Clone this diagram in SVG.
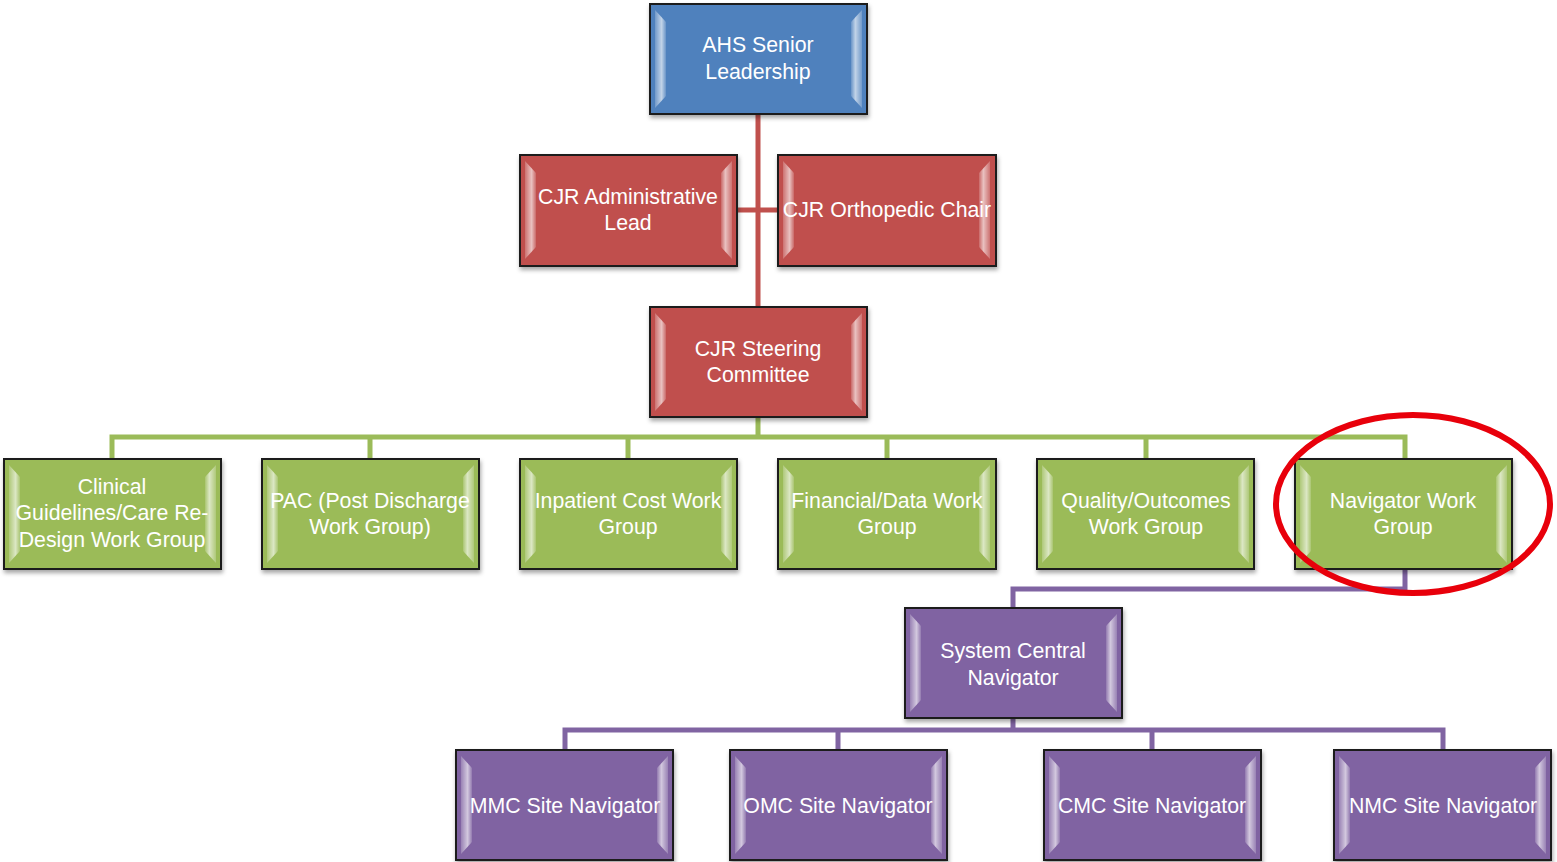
<svg xmlns="http://www.w3.org/2000/svg" xmlns:xlink="http://www.w3.org/1999/xlink" width="1557" height="862" viewBox="0 0 1557 862">
<style>
.box{stroke:#1a1a1a;stroke-width:2;filter:url(#sh)}
.blue{fill:#4f81bd}.red{fill:#c0504d}.green{fill:#9bbb59}.purple{fill:#8064a2}
.lbl{font-family:"Liberation Sans",Arial,sans-serif;font-size:21.3px;fill:#fff;text-anchor:middle}
.cr{stroke:#c0504d;stroke-width:5;fill:none}
.cg{stroke:#9bbb59;stroke-width:5;fill:none}
.cp{stroke:#8064a2;stroke-width:5;fill:none}
</style>
<defs>
<filter id="sh" x="-10%" y="-10%" width="125%" height="130%">
<feDropShadow dx="1" dy="3" stdDeviation="2" flood-color="#000" flood-opacity="0.35"/>
</filter>
<linearGradient id="bl" x1="0" y1="0" x2="1" y2="0">
<stop offset="0" stop-color="#fff" stop-opacity="0.2"/>
<stop offset="0.6" stop-color="#fff" stop-opacity="0.65"/>
<stop offset="1" stop-color="#fff" stop-opacity="0.15"/>
</linearGradient>
<linearGradient id="br" x1="1" y1="0" x2="0" y2="0">
<stop offset="0" stop-color="#fff" stop-opacity="0.2"/>
<stop offset="0.6" stop-color="#fff" stop-opacity="0.65"/>
<stop offset="1" stop-color="#fff" stop-opacity="0.15"/>
</linearGradient>
<g id="bevel">
<polygon points="5,6 16,18 16,92 5,104" fill="url(#bl)"/>
<polygon points="212,6 201,18 201,92 212,104" fill="url(#br)"/>
</g>
</defs>

<g id="connectors">
<path class="cr" d="M758 114 V307 M737 210 H778"/>
<path class="cg" d="M758 417 V437 M112 459 V437 H1405 V459 M370 437 V459 M628 437 V459 M887 437 V459 M1146 437 V459"/>
<path class="cp" d="M1405 569 V589 H1013 V608 M1013 718 V730 M565 750 V730 H1443 V750 M838 730 V750 M1152 730 V750"/>
</g>

<g id="ahs"><rect class="box blue" x="650" y="4" width="217" height="110"/><use xlink:href="#bevel" x="650" y="4"/>
<text class="lbl" x="758" y="52">AHS Senior</text><text class="lbl" x="758" y="79">Leadership</text></g>

<g id="admin"><rect class="box red" x="520" y="155" width="217" height="111"/><use xlink:href="#bevel" x="520" y="155"/>
<text class="lbl" x="628" y="204">CJR Administrative</text><text class="lbl" x="628" y="230">Lead</text></g>

<g id="ortho"><rect class="box red" x="778" y="155" width="218" height="111"/><use xlink:href="#bevel" x="778" y="155"/>
<text class="lbl" x="887" y="217">CJR Orthopedic Chair</text></g>

<g id="steering"><rect class="box red" x="650" y="307" width="217" height="110"/><use xlink:href="#bevel" x="650" y="307"/>
<text class="lbl" x="758" y="356">CJR Steering</text><text class="lbl" x="758" y="382">Committee</text></g>

<g id="clinical"><rect class="box green" x="4" y="459" width="217" height="110"/><use xlink:href="#bevel" x="4" y="459"/>
<text class="lbl" x="112" y="494">Clinical</text><text class="lbl" x="112" y="520">Guidelines/Care Re-</text><text class="lbl" x="112" y="547">Design Work Group</text></g>

<g id="pac"><rect class="box green" x="262" y="459" width="217" height="110"/><use xlink:href="#bevel" x="262" y="459"/>
<text class="lbl" x="370" y="508">PAC (Post Discharge</text><text class="lbl" x="370" y="534">Work Group)</text></g>

<g id="inpatient"><rect class="box green" x="520" y="459" width="217" height="110"/><use xlink:href="#bevel" x="520" y="459"/>
<text class="lbl" x="628" y="508">Inpatient Cost Work</text><text class="lbl" x="628" y="534">Group</text></g>

<g id="financial"><rect class="box green" x="778" y="459" width="218" height="110"/><use xlink:href="#bevel" x="778" y="459"/>
<text class="lbl" x="887" y="508">Financial/Data Work</text><text class="lbl" x="887" y="534">Group</text></g>

<g id="quality"><rect class="box green" x="1037" y="459" width="217" height="110"/><use xlink:href="#bevel" x="1037" y="459"/>
<text class="lbl" x="1146" y="508">Quality/Outcomes</text><text class="lbl" x="1146" y="534">Work Group</text></g>

<g id="navigator"><rect class="box green" x="1295" y="459" width="217" height="110"/><use xlink:href="#bevel" x="1295" y="459"/>
<text class="lbl" x="1403" y="508">Navigator Work</text><text class="lbl" x="1403" y="534">Group</text></g>

<g id="central"><rect class="box purple" x="905" y="608" width="217" height="110"/><use xlink:href="#bevel" x="905" y="608"/>
<text class="lbl" x="1013" y="658">System Central</text><text class="lbl" x="1013" y="685">Navigator</text></g>

<g id="mmc"><rect class="box purple" x="456" y="750" width="217" height="110"/><use xlink:href="#bevel" x="456" y="750"/>
<text class="lbl" x="565" y="813">MMC Site Navigator</text></g>

<g id="omc"><rect class="box purple" x="730" y="750" width="217" height="110"/><use xlink:href="#bevel" x="730" y="750"/>
<text class="lbl" x="838" y="813">OMC Site Navigator</text></g>

<g id="cmc"><rect class="box purple" x="1044" y="750" width="217" height="110"/><use xlink:href="#bevel" x="1044" y="750"/>
<text class="lbl" x="1152" y="813">CMC Site Navigator</text></g>

<g id="nmc"><rect class="box purple" x="1334" y="750" width="217" height="110"/><use xlink:href="#bevel" x="1334" y="750"/>
<text class="lbl" x="1443" y="813">NMC Site Navigator</text></g>

<ellipse id="highlight" cx="1413" cy="504" rx="137" ry="89" fill="none" stroke="#e8000b" stroke-width="6"/>
</svg>
